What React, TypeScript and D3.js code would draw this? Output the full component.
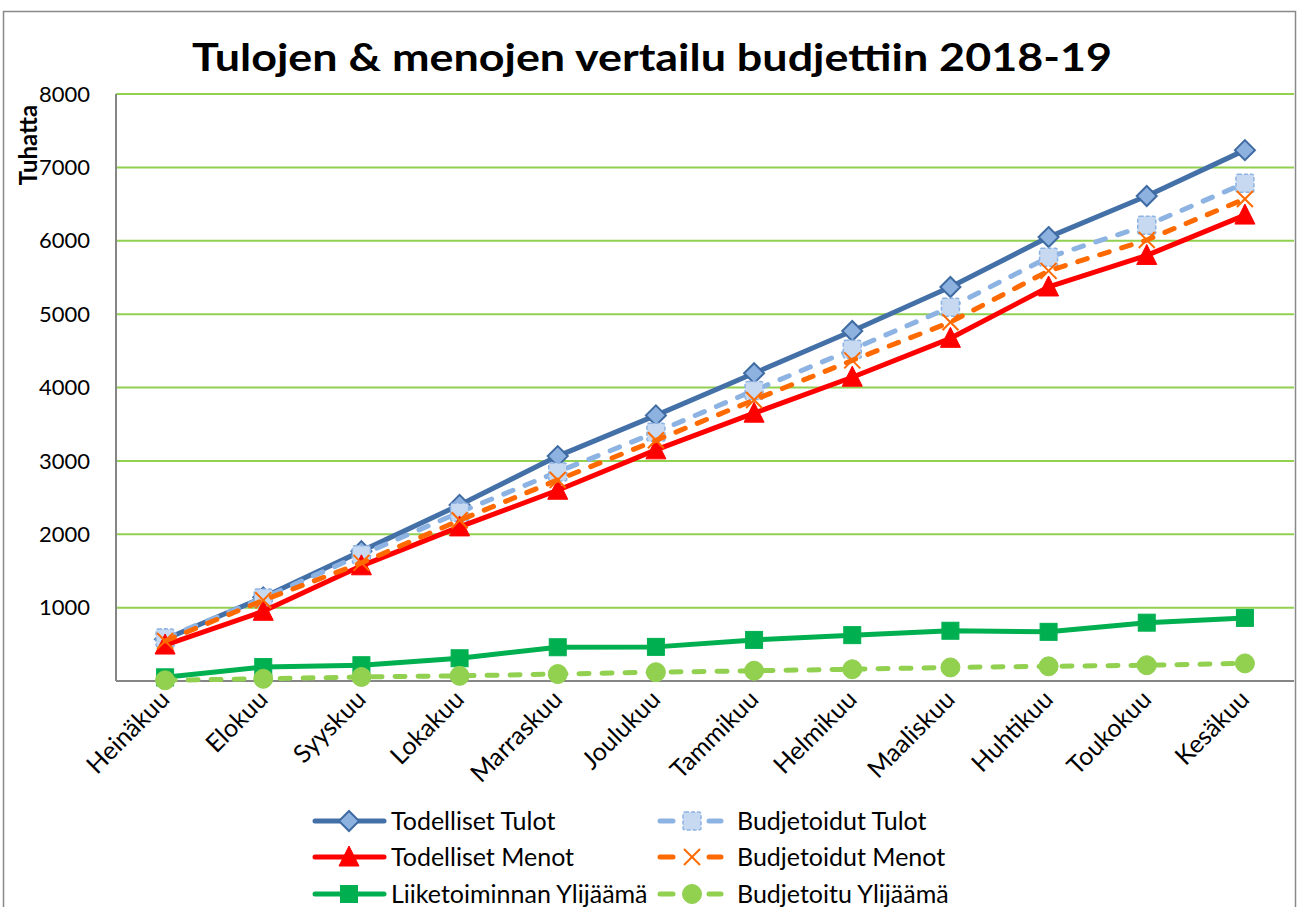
import React from "react";
import * as d3 from "d3";

const categories = ["Heinäkuu", "Elokuu", "Syyskuu", "Lokakuu", "Marraskuu", "Joulukuu", "Tammikuu", "Helmikuu", "Maaliskuu", "Huhtikuu", "Toukokuu", "Kesäkuu"];
const todellisetTulot = [570, 1140, 1770, 2400, 3065, 3620, 4195, 4770, 5370, 6050, 6610, 7235];
const budjetoidutTulot = [585, 1130, 1720, 2300, 2850, 3390, 3960, 4520, 5095, 5775, 6210, 6785];
const todellisetMenot = [490, 950, 1570, 2100, 2600, 3150, 3650, 4140, 4670, 5370, 5800, 6350];
const budjetoidutMenot = [545, 1100, 1610, 2190, 2740, 3280, 3830, 4370, 4890, 5590, 6010, 6570];
const liiketoiminnanYlijaama = [50, 190, 215, 310, 460, 465, 560, 625, 685, 670, 795, 860];
const budjetoituYlijaama = [10, 30, 55, 70, 95, 120, 140, 160, 185, 200, 215, 240];
const yTicks = [0, 1000, 2000, 3000, 4000, 5000, 6000, 7000, 8000];

const FONT = "Lato, 'Liberation Sans', sans-serif";

type Marker = "diamond" | "square" | "triangle" | "x" | "circle";
interface Series {
  name: string;
  values: number[];
  color: string;
  dashed: boolean;
  marker: Marker;
  fill: string;
  mstroke: string;
}

const series: Series[] = [
  { name: "Todelliset Tulot", values: todellisetTulot, color: "#4470A8", dashed: false, marker: "diamond", fill: "#8EB2E0", mstroke: "#3F6BA3" },
  { name: "Budjetoidut Tulot", values: budjetoidutTulot, color: "#8DB3E2", dashed: true, marker: "square", fill: "#C6D9F1", mstroke: "#8DB3E2" },
  { name: "Todelliset Menot", values: todellisetMenot, color: "#FF0000", dashed: false, marker: "triangle", fill: "#FF0000", mstroke: "#FF0000" },
  { name: "Budjetoidut Menot", values: budjetoidutMenot, color: "#FF6A00", dashed: true, marker: "x", fill: "none", mstroke: "#FF6A00" },
  { name: "Liiketoiminnan Ylijäämä", values: liiketoiminnanYlijaama, color: "#00B050", dashed: false, marker: "square", fill: "#00B050", mstroke: "#00B050" },
  { name: "Budjetoitu Ylijäämä", values: budjetoituYlijaama, color: "#92D050", dashed: true, marker: "circle", fill: "#92D050", mstroke: "#92D050" },
];

function MarkerShape({ s, x, y }: { s: Series; x: number; y: number }) {
  switch (s.marker) {
    case "diamond":
      return <path d={`M${x},${y - 10}L${x + 10},${y}L${x},${y + 10}L${x - 10},${y}Z`} fill={s.fill} stroke={s.mstroke} strokeWidth={2} />;
    case "square":
      if (s.dashed)
        return <rect x={x - 9} y={y - 9} width={18} height={18} rx={2} fill={s.fill} stroke={s.mstroke} strokeWidth={1.5} strokeDasharray="4 2" />;
      return <rect x={x - 8.5} y={y - 8.5} width={17} height={17} fill={s.fill} stroke={s.mstroke} strokeWidth={1} />;
    case "triangle":
      return <path d={`M${x},${y - 11}L${x + 10},${y + 9}L${x - 10},${y + 9}Z`} fill={s.fill} stroke={s.mstroke} strokeWidth={1} />;
    case "x":
      return (
        <g stroke={s.mstroke} strokeWidth={2}>
          <line x1={x - 8} y1={y - 8} x2={x + 8} y2={y + 8} />
          <line x1={x - 8} y1={y + 8} x2={x + 8} y2={y - 8} />
        </g>
      );
    case "circle":
      return <circle cx={x} cy={y} r={9.5} fill={s.fill} stroke={s.mstroke} strokeWidth={1} />;
  }
  return null;
}

export default function App() {
  const W = 1301, H = 907;
  const left = 116, right = 1294, top = 94, bottom = 681;
  const x = d3.scaleBand<string>().domain(categories).range([left, right]);
  const cx = (c: string) => (x(c) as number) + x.bandwidth() / 2;
  const y = d3.scaleLinear().domain([0, 8000]).range([bottom, top]);
  const line = d3.line<number>().x((_, i) => cx(categories[i])).y((v) => y(v));

  const legendRows = [821, 857, 894];

  return (
    <svg width={W} height={H} style={{ display: "block", position: "absolute", left: 0, top: 0 }} fontFamily={FONT}>
      <rect x={0} y={0} width={W} height={H} fill="#fff" />
      <rect x={3.5} y={11.5} width={1292} height={H} fill="#fff" stroke="#898989" strokeWidth={1.5} />
      <text x={192} y={71} fontSize={38} fontWeight="bold" fill="#000" textLength={920} lengthAdjust="spacingAndGlyphs">
        Tulojen &amp; menojen vertailu budjettiin 2018-19
      </text>
      {/* gridlines */}
      {yTicks.filter((t) => t > 0).map((t) => (
        <line key={t} x1={left} x2={right} y1={y(t)} y2={y(t)} stroke="#92D050" strokeWidth={2} />
      ))}
      {/* axes */}
      <line x1={left} x2={left} y1={top} y2={bottom} stroke="#868686" strokeWidth={2} />
      <line x1={left} x2={right} y1={bottom} y2={bottom} stroke="#868686" strokeWidth={2} />
      {yTicks.map((t) => (
        <text key={t} x={90} y={y(t)} dy="0.35em" textAnchor="end" fontSize={22} fill="#000">
          {t === 0 ? "" : t}
        </text>
      ))}
      <text transform="translate(37,145) rotate(-90)" textAnchor="middle" fontSize={24} fontWeight="bold" fill="#000">
        Tuhatta
      </text>
      {categories.map((c) => (
        <text key={c} transform={`translate(${cx(c) + 6},${701}) rotate(-45)`} textAnchor="end" fontSize={25} fill="#000">
          {c}
        </text>
      ))}
      {/* series */}
      {series.map((s) => (
        <g key={s.name}>
          <path
            d={line(s.values) as string}
            fill="none"
            stroke={s.color}
            strokeWidth={5}
            strokeDasharray={s.dashed ? "10 13" : undefined}
            strokeLinecap={s.dashed ? "round" : "butt"}
            strokeLinejoin="round"
          />
          {s.values.map((v, i) => (
            <MarkerShape key={i} s={s} x={cx(categories[i])} y={y(v)} />
          ))}
        </g>
      ))}
      {/* legend */}
      {series.map((s, i) => {
        const row = legendRows[Math.floor(i / 2)];
        const isLeft = i % 2 === 0;
        const mx = isLeft ? 349 : 692;
        const tx = isLeft ? 391 : 737;
        return (
          <g key={s.name}>
            {s.dashed ? (
              <g stroke={s.color} strokeWidth={5} strokeLinecap="round">
                <line x1={660} x2={673} y1={row} y2={row} />
                <line x1={709} x2={721} y1={row} y2={row} />
              </g>
            ) : (
              <line x1={315} x2={384} y1={row} y2={row} stroke={s.color} strokeWidth={5} strokeLinecap="round" />
            )}
            <MarkerShape s={s} x={mx} y={row} />
            <text x={tx} y={row} dy="0.36em" fontSize={25} fill="#000">
              {s.name}
            </text>
          </g>
        );
      })}
    </svg>
  );
}
